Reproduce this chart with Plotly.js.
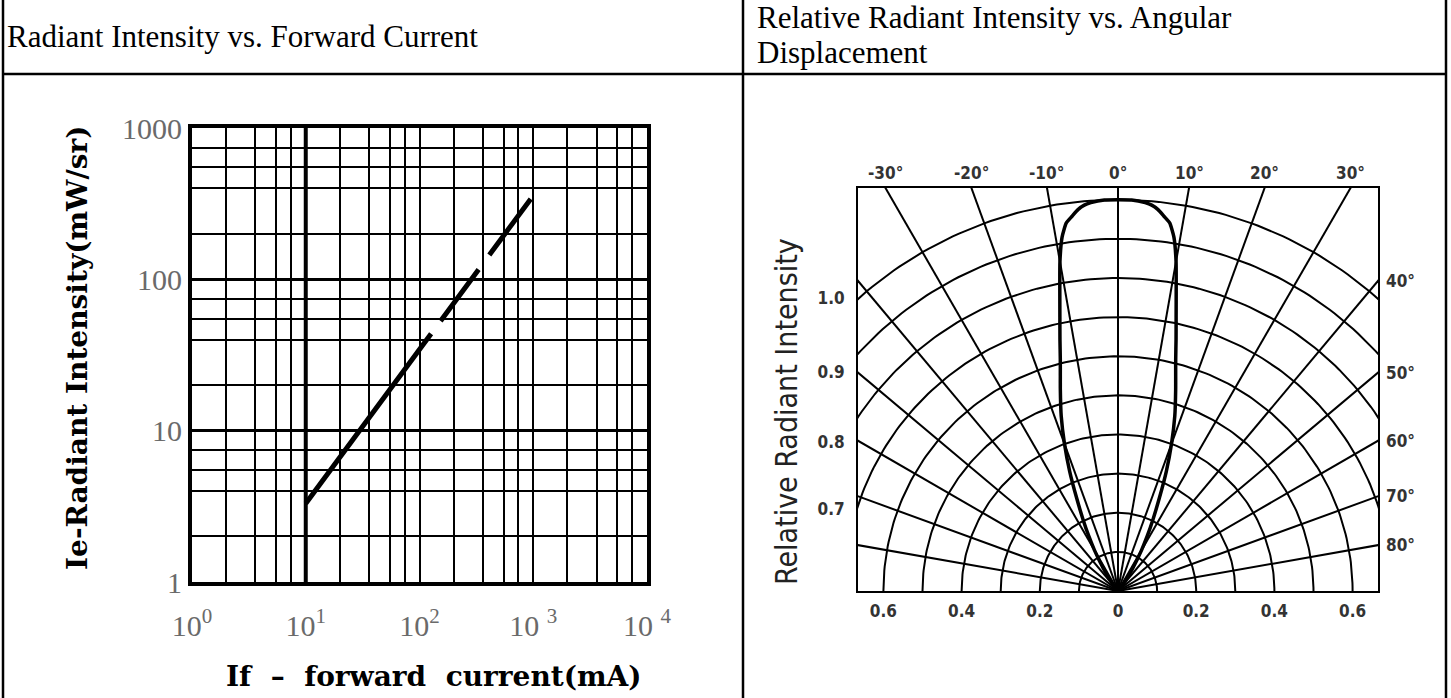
<!DOCTYPE html>
<html>
<head>
<meta charset="utf-8">
<script src="https://cdn.plot.ly/plotly-3.0.1.min.js"></script>
<style>
html,body{margin:0;padding:0;background:#fff;overflow:hidden;}
#chart{width:1451px;height:698px;}
</style>
</head>
<body>
<div id="chart"></div>
<script>
// ---------- Left chart: Radiant Intensity vs. Forward Current ----------
const forwardCurrent_mA = [10, 20, 50, 100, 200, 500, 950];
const radiantIntensity_mWsr = [3.3, 6.7, 17.2, 35, 71, 180, 340];
const xDecadeTicks = [1, 10, 100, 1000, 10000];
const xDecadeLabels = ['10<sup>0</sup>', '10<sup>1</sup>', '10<sup>2</sup>', '10 <sup>3</sup>', '10 <sup>4</sup>'];
const yDecadeTicks = [1, 10, 100, 1000];
const yDecadeLabels = ['1', '10', '100', '1000'];
const xMinorMultipliers = [2, 3.6, 5.5, 7.4];
const yMinorMultipliers = [2, 4, 5.5, 7.4];
const emphasisCurrent = [10, 10];
const emphasisRange = [1, 1000];

// ---------- Right chart: Relative Radiant Intensity vs. Angular Displacement ----------
const angleDeg = [-40,-36,-33,-30,-28,-26,-24,-22,-20,-18,-16,-15,-14,-13,-12,-11,-10,-9,-8,-7,-6,-5,-4,-2,0,2,4,5,6,7,8,9,10,11,12,13,14,15,16,18,20,22,24,26,28,30,33,36,40];
const relIntensity = [0,0.035,0.07,0.12,0.16,0.205,0.26,0.33,0.40,0.47,0.535,0.57,0.61,0.66,0.715,0.78,0.855,0.915,0.95,0.965,0.98,0.99,0.995,1.0,1.0,1.0,0.995,0.99,0.98,0.965,0.95,0.915,0.855,0.78,0.715,0.66,0.61,0.57,0.535,0.47,0.40,0.33,0.26,0.205,0.16,0.12,0.07,0.035,0];
const rayAngles = [-80,-70,-60,-50,-40,-30,-20,-10,0,10,20,30,40,50,60,70,80];
const arcRadii = [0.1,0.2,0.3,0.4,0.5,0.6,0.7,0.8,0.9,1.0];
const topAngleLabels = [-30,-20,-10,0,10,20,30];
const sideAngleLabels = [40,50,60,70,80];
const xTickVals2 = [-0.6,-0.4,-0.2,0,0.2,0.4,0.6];
const xTickText2 = ['0.6','0.4','0.2','0','0.2','0.4','0.6'];
const yTickVals2 = [0.75,0.56,0.38,0.21];
const yTickText2 = ['1.0','0.9','0.8','0.7'];

// ---------- helpers ----------
const W = 1451, H = 698;
const px = v => v / W;
const py = v => 1 - v / H;
const rad = d => d * Math.PI / 180;

function minorList(mults, decades) {
  const out = [];
  decades.forEach(d => mults.forEach(m => out.push(d * m)));
  return out;
}

const X2MAX = 0.665, Y2MAX = 1.03;

const traces = [];
// thick emphasis gridline at 10 mA
traces.push({x: emphasisCurrent, y: emphasisRange, xaxis:'x', yaxis:'y', mode:'lines',
  line:{color:'#000', width:4}, hoverinfo:'skip'});
// data line
traces.push({x: forwardCurrent_mA, y: radiantIntensity_mWsr, xaxis:'x', yaxis:'y', mode:'lines',
  line:{color:'#000', width:5, dash:'211px,16px,64px,18px,75px,20px'}, hoverinfo:'skip'});

// polar grid: arcs
const sweep = [];
for (let a = -90; a <= 90; a += 1) sweep.push(a);
arcRadii.forEach(r => {
  traces.push({x: sweep.map(a => r * Math.sin(rad(a))), y: sweep.map(a => r * Math.cos(rad(a))),
    xaxis:'x2', yaxis:'y2', mode:'lines', line:{color:'#000', width:2}, hoverinfo:'skip'});
});
// polar grid: rays
rayAngles.forEach(a => {
  traces.push({x: [0, 2 * Math.sin(rad(a))], y: [0, 2 * Math.cos(rad(a))],
    xaxis:'x2', yaxis:'y2', mode:'lines', line:{color:'#000', width:2}, hoverinfo:'skip'});
});
// lobe
traces.push({x: angleDeg.map((a, i) => relIntensity[i] * Math.sin(rad(a))),
  y: angleDeg.map((a, i) => relIntensity[i] * Math.cos(rad(a))),
  xaxis:'x2', yaxis:'y2', mode:'lines', line:{color:'#000', width:3.5, shape:'spline', smoothing:0.5}, hoverinfo:'skip'});

const smallBold = {family:"'DejaVu Sans Condensed','DejaVu Sans',sans-serif", size:17, color:'#333', weight:'bold'};

const annotations = [];
// header titles
annotations.push({xref:'paper', yref:'paper', x:px(5), y:py(36), xanchor:'left', yanchor:'middle', showarrow:false,
  text:'Radiant Intensity vs. Forward Current', font:{family:"'Liberation Serif','Times New Roman',serif", size:31, color:'#000'}});
annotations.push({xref:'paper', yref:'paper', x:px(755), y:py(18), xanchor:'left', yanchor:'middle', showarrow:false,
  text:'Relative Radiant Intensity vs. Angular', font:{family:"'Liberation Serif','Times New Roman',serif", size:31, color:'#000'}});
annotations.push({xref:'paper', yref:'paper', x:px(755), y:py(53), xanchor:'left', yanchor:'middle', showarrow:false,
  text:'Displacement', font:{family:"'Liberation Serif','Times New Roman',serif", size:31, color:'#000'}});
// left axis titles
annotations.push({xref:'paper', yref:'paper', x:px(77), y:py(348), xanchor:'center', yanchor:'middle', showarrow:false, textangle:-90,
  text:'Ie-Radiant Intensity(mW/sr)', font:{family:"'DejaVu Serif',serif", size:28, color:'#000', weight:'bold'}});
annotations.push({xref:'paper', yref:'paper', x:px(434), y:py(676), xanchor:'center', yanchor:'middle', showarrow:false,
  text:'If\u00a0\u00a0\u2013\u00a0\u00a0forward\u00a0\u00a0current(mA)', font:{family:"'DejaVu Serif',serif", size:28, color:'#000', weight:'bold'}});
// right axis title
annotations.push({xref:'paper', yref:'paper', x:px(786), y:py(412), xanchor:'center', yanchor:'middle', showarrow:false, textangle:-90,
  text:'Relative Radiant Intensity', font:{family:"'Liberation Sans Narrow','DejaVu Sans Condensed','DejaVu Sans',sans-serif", size:30, color:'#222'}});
// angle labels
topAngleLabels.forEach(a => {
  annotations.push({xref:'x2', yref:'y2', x: Y2MAX * Math.tan(rad(a)), y: Y2MAX, xanchor:'center', yanchor:'bottom', yshift:3,
    showarrow:false, text: a + '°', font: smallBold});
});
sideAngleLabels.forEach(a => {
  annotations.push({xref:'x2', yref:'y2', x: X2MAX, y: X2MAX / Math.tan(rad(a)), xanchor:'left', yanchor:'middle', xshift:6,
    showarrow:false, text: a + '°', font: smallBold});
});

const line = (x0, y0, x1, y1, w) => ({type:'line', xref:'paper', yref:'paper',
  x0:px(x0), y0:py(y0), x1:px(x1), y1:py(y1), line:{color:'#000', width:w}});
const shapes = [
  line(3, 0, 3, 698, 2.5),
  line(743, 0, 743, 698, 2.5),
  line(1446, 0, 1446, 698, 2.5),
  line(3, 74, 1446, 74, 2.5)
];

const layout = {
  width: W, height: H,
  margin: {l:0, r:0, t:0, b:0},
  paper_bgcolor: '#fff', plot_bgcolor: 'rgba(0,0,0,0)',
  showlegend: false,
  xaxis: {
    type:'log', domain:[px(192), px(647)], range:[0, 4], anchor:'y',
    tickmode:'array', tickvals: xDecadeTicks, ticktext: xDecadeLabels, ticks:'',
    tickfont:{family:"'Liberation Serif','Times New Roman',serif", size:30, color:'#6a6a6a'},
    ticklabelstandoff: 14,
    showgrid:true, gridcolor:'#000', gridwidth:2,
    minor:{tickmode:'array', tickvals: minorList(xMinorMultipliers, [1,10,100,1000]), showgrid:true, gridcolor:'#000', gridwidth:2, ticks:''},
    showline:true, mirror:true, linecolor:'#000', linewidth:4, zeroline:false, fixedrange:true
  },
  yaxis: {
    type:'log', domain:[py(582), py(128)], range:[0, 3], anchor:'x',
    tickmode:'array', tickvals: yDecadeTicks, ticktext: yDecadeLabels, ticks:'',
    tickfont:{family:"'Liberation Serif','Times New Roman',serif", size:30, color:'#6a6a6a'},
    ticklabelstandoff: 0,
    showgrid:true, gridcolor:'#000', gridwidth:3.5,
    minor:{tickmode:'array', tickvals: minorList(yMinorMultipliers, [1,10,100]), showgrid:true, gridcolor:'#000', gridwidth:2, ticks:''},
    showline:true, mirror:true, linecolor:'#000', linewidth:4, zeroline:false, fixedrange:true
  },
  xaxis2: {
    domain:[px(858), px(1378)], range:[-X2MAX, X2MAX], anchor:'y2',
    tickmode:'array', tickvals: xTickVals2, ticktext: xTickText2, ticks:'',
    tickfont: smallBold, ticklabelstandoff: 4,
    showgrid:false, zeroline:false, showline:true, mirror:true, linecolor:'#000', linewidth:2, fixedrange:true
  },
  yaxis2: {
    domain:[py(591), py(188)], range:[0, Y2MAX], anchor:'x2',
    tickmode:'array', tickvals: yTickVals2, ticktext: yTickText2, ticks:'',
    tickfont: smallBold, ticklabelstandoff: 8,
    showgrid:false, zeroline:false, showline:true, mirror:true, linecolor:'#000', linewidth:2, fixedrange:true
  },
  shapes: shapes,
  annotations: annotations
};

Plotly.newPlot('chart', traces, layout, {staticPlot:true, displayModeBar:false});
</script>
</body>
</html>
